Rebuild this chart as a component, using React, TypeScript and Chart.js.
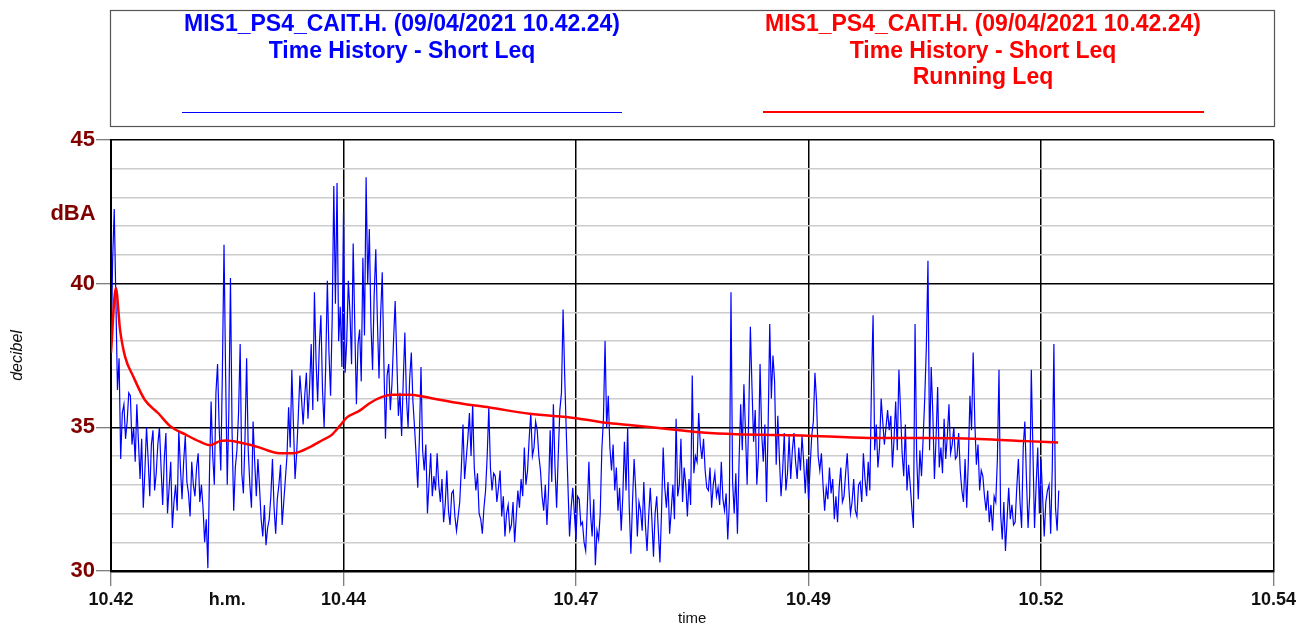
import React, { useEffect, useRef } from "react";
import { Chart, registerables } from "chart.js";

Chart.register(...registerables);

// ---- data -------------------------------------------------------------
// Short Leq samples (dBA), one every SAMPLE_STEP_S seconds from 10.42.24
const SAMPLE_STEP_S = 1;
const shortLeq: number[] = [
  37.1, 40.8, 42.6, 39.5, 36.3, 37.4, 33.9, 35.5, 35.8, 34.6,
  35.2, 36.2, 36.1, 34.4, 35.0, 33.8, 35.8, 34.5, 33.2, 34.6,
  32.2, 33.5, 35.0, 33.9, 32.6, 34.4, 34.9, 32.8, 33.4, 34.4,
  35.0, 33.6, 32.3, 33.9, 34.8, 32.0, 32.9, 33.8, 31.5, 32.4,
  33.0, 32.1, 34.9, 33.6, 32.5, 33.8, 34.7, 33.1, 32.7, 31.9,
  33.8, 33.0, 32.6, 33.6, 34.1, 32.4, 33.0, 32.2, 31.0, 31.8,
  30.1, 33.4, 35.9, 34.0, 33.0, 36.2, 37.2, 35.0, 33.5, 37.0,
  41.35, 36.8, 33.0, 35.6, 40.2, 34.8, 32.1, 33.6, 34.2, 35.5,
  37.9, 33.4, 32.7, 34.6, 37.4, 34.2, 33.0, 32.2, 35.2, 33.8,
  32.6, 33.9, 32.9, 31.8, 31.2, 32.3, 30.9, 31.5, 31.8, 32.6,
  33.9, 32.2, 31.3, 32.5, 33.0, 33.7, 31.6, 32.4, 33.2, 34.0,
  35.7, 34.3, 37.0, 35.1, 33.2, 34.1, 35.4, 36.8,
  36.0, 35.1, 36.1, 36.9, 35.3, 36.4, 37.9, 35.6, 39.7, 37.3,
  35.9, 37.8, 38.9, 36.3, 35.0, 37.2, 40.1, 37.6, 36.1, 38.8,
  43.4, 39.3, 43.5, 38.0, 39.2, 37.1, 42.5, 36.9, 38.0, 40.1,
  39.0, 37.2, 41.4, 38.5, 35.8, 37.9, 38.4, 36.6, 40.9, 38.2,
  43.7, 40.0, 41.9, 38.6, 37.0, 39.6, 41.2, 38.7, 36.7, 38.9,
  40.4, 37.3, 34.6, 36.8, 37.2, 35.6, 36.5, 38.0, 39.4, 37.4,
  35.4, 36.2, 34.7, 36.6, 38.3, 36.0, 35.0, 36.7, 37.6, 35.9,
  35.0, 34.0, 32.9, 34.6, 37.1, 34.2, 33.5, 34.4, 32.0, 33.1,
  34.1, 32.6, 33.3, 32.8, 34.1, 33.0, 32.4, 33.2, 31.7, 32.3,
  33.5, 32.1, 31.6, 32.7, 32.8, 31.9, 31.4, 31.9, 32.4, 33.6,
  35.1, 33.2, 33.9, 34.6, 35.5, 34.0, 35.8, 33.6, 32.8, 33.4,
  32.0, 31.8, 31.3, 32.2, 32.8, 34.0, 35.7, 33.6,
  32.8, 33.4, 33.3, 32.4, 32.9, 33.5, 31.9, 32.6, 31.2, 32.0,
  32.3, 31.4, 31.6, 32.4, 31.0, 31.9, 32.8, 32.2, 33.2, 32.6,
  34.3, 33.0, 33.5, 34.6, 35.5, 34.0, 34.3, 35.2, 34.9, 34.0,
  33.5, 32.6, 32.1, 33.0, 31.6, 32.8, 34.9, 33.1, 35.8, 33.6,
  32.2, 34.0, 35.6, 36.2, 39.1, 36.8, 34.8, 33.0, 31.2, 32.2,
  32.9, 32.0, 31.1, 32.6, 32.5, 31.6, 31.7, 31.0, 30.7, 32.2,
  33.8, 32.0, 31.2, 32.5, 30.2, 31.4, 31.1, 32.0, 34.2, 35.3,
  38.0, 35.0, 36.1, 34.3, 33.5, 34.4, 32.8, 33.6, 32.1, 32.9,
  31.4, 32.6, 34.5, 32.8, 35.0, 32.2, 30.6, 32.4, 33.9, 32.8,
  31.2, 32.4, 32.1, 31.4, 33.1, 31.6, 30.7, 31.9, 32.9, 31.8,
  30.5, 32.0, 32.6, 31.4, 30.3, 32.1, 34.3, 32.9, 32.2, 33.1,
  31.3, 32.1, 33.0, 31.8, 35.3, 32.6,
  33.0, 34.6, 32.4, 33.6, 33.0, 31.9, 33.2, 32.3, 36.8, 33.4,
  34.0, 33.8, 35.5, 34.4, 33.9, 34.6, 33.5, 32.9, 32.8, 33.6,
  32.2, 33.0, 33.4, 32.6, 32.9, 32.3, 33.8, 32.5, 32.1, 32.7,
  31.1, 32.4, 39.7, 33.1, 32.0, 33.4, 31.3, 33.8, 35.8, 34.2,
  36.5, 34.8, 33.0, 35.4, 38.5, 36.4, 34.5, 35.6, 33.0, 34.0,
  37.2, 34.8, 33.8, 35.1, 32.4, 35.0, 38.6, 36.0, 37.5, 36.6,
  33.7, 35.4, 33.9, 32.6, 33.5, 34.8, 32.8, 33.4, 34.7, 33.2,
  34.2, 34.8, 33.8, 33.2, 34.3, 33.5, 34.7, 33.8, 32.7, 33.9,
  32.5, 33.6, 34.7, 35.2, 36.9, 35.9, 34.0, 33.5, 34.1, 33.0,
  32.1, 32.9, 32.5, 33.6, 32.7, 33.2, 31.8, 32.6, 31.7, 32.9,
  33.6, 32.4, 32.6, 33.4, 34.1, 32.9, 32.0, 32.4, 33.2, 32.1,
  31.9, 33.0, 33.1, 32.4, 34.1, 33.2, 32.6, 33.8,
  32.8, 36.5, 38.9, 34.2, 35.1, 33.6, 34.3, 36.0, 35.2, 34.4,
  35.0, 35.6, 34.9, 35.4, 33.6, 34.6, 35.9, 34.2, 37.0, 35.6,
  34.1, 33.3, 35.1, 32.8, 33.7, 33.0, 32.2, 31.5, 38.6, 34.0,
  32.5, 34.2, 33.3, 34.6, 36.0, 37.8, 40.8, 34.2, 37.1, 35.5,
  33.2, 34.6, 36.4, 33.6, 34.3, 33.4, 35.3, 33.9, 34.7, 35.8,
  34.1, 34.4, 35.0, 33.9, 34.0, 34.8, 33.5, 32.8, 32.4, 33.9,
  32.2, 33.8, 36.1, 34.9, 37.6, 35.2, 33.7, 34.4, 32.8, 33.5,
  33.3, 32.6, 32.1, 32.8, 31.7, 32.3, 31.4, 32.6, 32.4, 33.9,
  37.0, 32.0, 31.1, 32.4, 30.7, 31.8, 32.9, 31.8, 32.3, 31.6,
  31.7, 32.9, 33.9, 32.4, 31.5, 34.3, 35.2, 33.2, 31.5, 32.6,
  37.0, 34.2, 31.5, 33.0, 34.3, 32.0, 33.9, 32.6, 31.2, 32.4,
  32.8, 33.0, 31.3, 33.6, 37.9, 32.2, 31.4, 32.8,
];

// Running Leq (dBA) read at these times (s from start)
const runningTimes: number[] = [
  0, 3, 5.6, 8.7, 13.8, 21, 29.3, 36.5, 46.8, 55.1, 61.2, 67.4, 71.6, 79.8,
  90.1, 104.5, 112.8, 123.1, 131.1, 136.5, 141.7, 145.8, 154, 160.2, 167.5,
  174.6, 185, 193.2, 203.5, 217.9, 234.4, 259.2, 288.1, 306.6, 321, 352,
  366.2, 387.1, 428.1, 469.5, 504.6, 545.6, 566.4, 586.6,
];
const runningLeq: number[] = [
  37.6, 39.85, 38.4, 37.46, 36.77, 35.95, 35.49, 35.05, 34.73, 34.5, 34.38,
  34.52, 34.54, 34.47, 34.33, 34.1, 34.1, 34.31, 34.56, 34.73, 35.05, 35.33,
  35.58, 35.84, 36.05, 36.13, 36.13, 36.07, 35.96, 35.82, 35.69, 35.47,
  35.32, 35.16, 35.08, 34.9, 34.82, 34.76, 34.72, 34.63, 34.63, 34.58,
  34.52, 34.47,
];

// axes
const X_MIN_S = 0;
const X_MAX_S = 720;
const X_TICK_STEP_S = 72;
const xTickLabels = ["10.42", "h.m.", "10.44", "", "10.47", "", "10.49", "", "10.52", "", "10.54"];
const Y_MIN = 30;
const Y_MAX = 45;
const Y_MINOR_STEP = 1;
const Y_MAJOR_STEP = 5;

// legend texts
const seriesTitle = "MIS1_PS4_CAIT.H. (09/04/2021 10.42.24)";
const blueLegendLines = [seriesTitle, "Time History - Short Leq"];
const redLegendLines = [seriesTitle, "Time History - Short Leq", "Running Leq"];

const FONT = '"Liberation Sans", Arial, Helvetica, sans-serif';
const MAROON = "#800000";

const isMajor = (c: any) => !!c.tick && Math.abs(c.tick.value % Y_MAJOR_STEP) < 1e-9;

const overlayPlugin = {
  id: "overlay",
  afterDraw(chart: any) {
    const ctx = chart.ctx as CanvasRenderingContext2D;
    ctx.save();
    // legend frame
    ctx.strokeStyle = "#555";
    ctx.lineWidth = 1.2;
    ctx.strokeRect(110.5, 10.5, 1164, 116);

    ctx.font = `bold 23px ${FONT}`;
    ctx.textAlign = "center";
    ctx.textBaseline = "middle";
    ctx.fillStyle = "#0000ff";
    blueLegendLines.forEach((s, i) => ctx.fillText(s, 402, 25 + i * 26.5));
    ctx.strokeStyle = "#0000ff";
    ctx.lineWidth = 1;
    ctx.beginPath();
    ctx.moveTo(182, 112.5);
    ctx.lineTo(622, 112.5);
    ctx.stroke();

    ctx.fillStyle = "#ff0000";
    redLegendLines.forEach((s, i) => ctx.fillText(s, 983, 25 + i * 26.5));
    ctx.strokeStyle = "#ff0000";
    ctx.lineWidth = 2;
    ctx.beginPath();
    ctx.moveTo(763, 112);
    ctx.lineTo(1204, 112);
    ctx.stroke();

    // unit label
    ctx.fillStyle = MAROON;
    ctx.font = `bold 22px ${FONT}`;
    ctx.fillText("dBA", 73, 214);
    ctx.restore();
  },
};

export default function App() {
  const canvasRef = useRef<HTMLCanvasElement | null>(null);

  useEffect(() => {
    if (!canvasRef.current) return;
    const blueData = shortLeq.map((v, i) => ({ x: i * SAMPLE_STEP_S, y: v }));
    const redData = runningLeq.map((v, i) => ({ x: runningTimes[i], y: v }));

    const chart = new Chart(canvasRef.current, {
      type: "line",
      data: {
        datasets: [
          {
            label: "Running Leq",
            data: redData,
            borderColor: "#ff0000",
            borderWidth: 2.5,
            pointRadius: 0,
            cubicInterpolationMode: "monotone",
          },
          {
            label: "Short Leq",
            data: blueData,
            borderColor: "#0000ff",
            borderWidth: 1.2,
            pointRadius: 0,
            tension: 0,
          },
        ],
      },
      options: {
        responsive: false,
        animation: false,
        events: [],
        layout: { padding: { left: 0, right: 24, top: 140, bottom: 0 } },
        plugins: {
          legend: { display: false },
          tooltip: { enabled: false },
          title: { display: false },
        },
        scales: {
          x: {
            type: "linear",
            min: X_MIN_S,
            max: X_MAX_S,
            afterFit: (s: any) => {
              s.height = 57;
            },
            afterBuildTicks: (s: any) => {
              const t = [];
              for (let v = X_MIN_S; v <= X_MAX_S; v += X_TICK_STEP_S) t.push({ value: v });
              s.ticks = t;
            },
            ticks: {
              autoSkip: false,
              maxRotation: 0,
              padding: 3,
              color: "#111",
              font: { family: FONT, size: 18, weight: "bold" },
              callback: (_v: any, i: number) => xTickLabels[i] ?? "",
            },
            grid: {
              color: (c: any) => (c.index % 2 === 0 ? "#000" : "rgba(0,0,0,0)"),
              lineWidth: 1.5,
              tickLength: 15,
              tickColor: (c: any) => (c.index % 2 === 0 ? "#555" : "rgba(0,0,0,0)"),
              tickWidth: 1,
            },
            border: { display: true, color: "#000", width: 2.5 },
            title: {
              display: true,
              text: "time",
              color: "#111",
              font: { family: FONT, size: 15 },
              padding: { top: 0, bottom: 0 },
            },
          },
          y: {
            min: Y_MIN,
            max: Y_MAX,
            afterFit: (s: any) => {
              s.width = 111;
            },
            afterBuildTicks: (s: any) => {
              const t = [];
              for (let v = Y_MIN; v <= Y_MAX; v += Y_MINOR_STEP) t.push({ value: v });
              s.ticks = t;
            },
            ticks: {
              autoSkip: false,
              padding: 1,
              color: MAROON,
              font: { family: FONT, size: 22, weight: "bold" },
              callback: (v: any) => (Number(v) % Y_MAJOR_STEP === 0 ? String(v) : ""),
            },
            grid: {
              color: (c: any) => (isMajor(c) ? "#000" : "#cccccc"),
              lineWidth: 1.5,
              tickLength: 15,
              tickColor: (c: any) => (isMajor(c) ? "#555" : "rgba(0,0,0,0)"),
              tickWidth: 1,
            },
            border: { display: true, color: "#000", width: 2 },
            title: {
              display: true,
              text: "decibel",
              color: "#111",
              font: { family: FONT, size: 16, style: "italic" },
              padding: { top: 8, bottom: 0 },
            },
          },
        },
      },
      plugins: [overlayPlugin],
    } as any);

    return () => chart.destroy();
  }, []);

  return (
    <div style={{ position: "fixed", left: 0, top: 0, width: 1299, height: 628, background: "#fff" }}>
      <canvas ref={canvasRef} width={1299} height={628} style={{ display: "block" }} />
    </div>
  );
}
